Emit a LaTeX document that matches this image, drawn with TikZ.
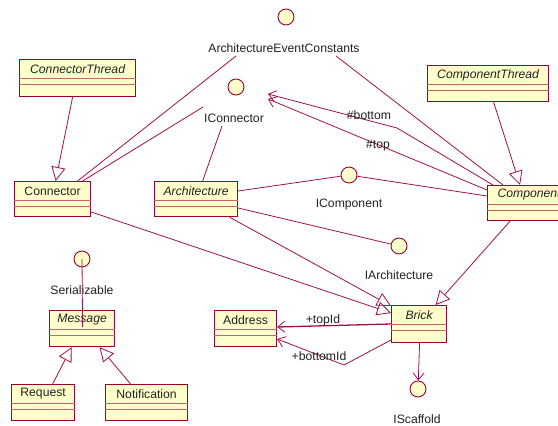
\documentclass[tikz,border=0pt]{standalone}
\usepackage{fontspec}
\setmainfont{Liberation Sans}
\usetikzlibrary{arrows.meta,calc}
\definecolor{umlfill}{HTML}{FFFFCC}
\definecolor{umlborder}{HTML}{990033}
\definecolor{umlrow}{HTML}{C8607A}
\definecolor{umlline}{HTML}{A0104A}
\definecolor{umltext}{HTML}{222222}
\newcommand\umlclass[7]{%
  \node[clsbox, minimum width=#4pt, minimum height=#5pt, anchor=north west] (#1) at (#2,#3) {};
  \node[clsname, font=\umlfont#7] (#1-n) at ($(#1.north)+(0,10)$) {#6};
  \draw[rowline] ($(#1.north west)+(0,19)$) -- ($(#1.north east)+(0,19)$);
  \draw[rowline] ($(#1.north west)+(0,25)$) -- ($(#1.north east)+(0,25)$);
}
\newcommand\umlfont{\fontsize{12.2}{14}\selectfont}
\begin{document}
\begin{tikzpicture}[x=1pt,y=-1pt,
  clsbox/.style={draw=umlborder, fill=umlfill, line width=1.2pt, inner sep=0pt, rectangle},
  clsname/.style={inner sep=0pt, text=umltext},
  rowline/.style={draw=umlrow, line width=0.8pt},
  iface/.style={circle, draw=umlborder, fill=umlfill, line width=0.9pt, minimum size=16pt, inner sep=0pt},
  ilabel/.style={inner sep=1pt, text=umltext, font=\umlfont},
  elabel/.style={inner sep=1pt, text=umltext, font=\umlfont},
  conn/.style={draw=umlline, line width=0.8pt},
  gen/.style={conn, -{Triangle[open, length=14pt, width=14pt, line width=0.8pt]}},
  nav/.style={conn, -{Straight Barb[length=7pt, width=11pt, line width=0.8pt]}}
]
\useasboundingbox (0,0) rectangle (558,426);
\clip (0,0) rectangle (558,426);
\fill[white] (0,0) rectangle (558,426);

% interfaces
\node[iface] (aec) at (286,17) {};
\node[ilabel] (aecl) at (284,48) {ArchitectureEventConstants};
\node[iface] (icon) at (236,87) {};
\node[ilabel] (iconl) at (234,118) {IConnector};
\node[iface] (icomp) at (349,175) {};
\node[ilabel] (icompl) at (349,205) {IComponent};
\node[iface] (iarch) at (399,246) {};
\node[ilabel] (iarchl) at (399,275) {IArchitecture};
\node[iface] (ser) at (82,259) {};
\node[ilabel] (serl) at (82,290) {Serializable};
\node[iface] (iscaf) at (418,389) {};
\node[ilabel] (iscafl) at (417,419) {IScaffold};

% classes
\umlclass{ctt}{19}{59}{116}{37}{ConnectorThread}{\itshape}
\umlclass{conn}{14}{181}{76}{35}{Connector}{}
\umlclass{arch}{154}{181}{83}{35}{Architecture}{\itshape}
\umlclass{cpt}{427}{65}{121}{36}{ComponentThread}{\itshape}
\umlclass{comp}{487}{185}{83}{35}{Component}{\itshape}
\umlclass{msg}{49}{310}{65}{36}{Message}{\itshape}
\umlclass{req}{11}{384}{63}{36}{Request}{}
\umlclass{notif}{105}{384}{82}{36}{Notification}{}
\umlclass{addr}{214}{310}{62}{36}{Address}{}
\umlclass{brick}{391}{305}{55}{37}{Brick}{\itshape}

% connectors
\draw[gen] ($(ctt.south)+(-5,0)$) -- ($(conn.north)+(3,0)$);
\draw[conn] ($(conn.north)+(25,0)$) -- ($(aecl)+(-48,8)$);
\draw[conn] ($(conn.north)+(30,0)$) -- ($(iconl)+(-31,-11)$);
\draw[conn] ($(arch.north)+(6.5,0)$) -- ($(iconl)+(-12,8)$);
\draw[conn] ($(comp.north west)+(16,0)$) -- ($(aecl)+(52,8)$);
\coordinate (bend1) at (397,128);
\draw[nav] ($(comp.north west)+(6,0)$) -- (bend1) -- ($(icon)+(32,7)$);
\draw[nav] ($(comp.north west)+(0,5)$) -- ($(icon)+(32,12)$);
\node[elabel] (lbot) at (369,115) {\#bottom};
\node[elabel] (ltop) at (378,146) {\#top};
\draw[conn] ($(arch.north east)+(0,10)$) -- (icomp);
\draw[conn] (icomp) -- ($(comp.north west)+(0,11)$);
\draw[conn] ($(arch.north east)+(0,27)$) -- (iarch);
\draw[gen] ($(arch.south)+(33.5,0)$) -- ($(brick.north west)+(0,1)$);
\draw[gen] ($(conn.north east)+(0,31)$) -- ($(brick.north west)+(0,8)$);
\draw[gen] ($(comp.south west)+(23,0)$) -- ($(brick.north)+(16.5,0)$);
\draw[gen] ($(cpt.south)+(5.5,0)$) -- ($(comp.north west)+(33,0)$);
\draw[nav, line width=1.3pt] ($(brick.north west)+(0,19)$) -- ($(addr.north east)+(0,17)$);
\node[elabel] (ltopid) at (323,320) {+topId};
\coordinate (bend2) at (344,365);
\draw[nav] ($(brick.north west)+(0,35)$) -- (bend2) -- ($(addr.north east)+(0,29)$);
\node[elabel] (lbotid) at (319,356) {+bottomId};
\draw[nav] ($(brick.south)+(0.5,0)$) -- (iscaf);
\draw[conn] (ser.center) -- ($(msg.north)+(0.5,17)$);
\draw[gen] ($(req.north)+(9.5,0)$) -- ($(msg.south)+(-10.5,0)$);
\draw[gen] ($(notif.north)+(-16,0)$) -- ($(msg.south)+(17.5,0)$);
\end{tikzpicture}
\end{document}
